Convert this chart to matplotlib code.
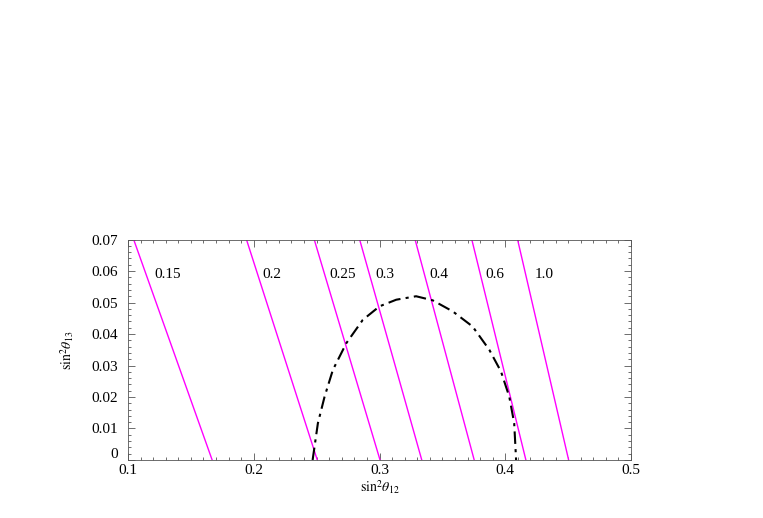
import matplotlib
matplotlib.use('Agg')

import matplotlib.pyplot as plt
import matplotlib.transforms as mtransforms
from matplotlib.ticker import MultipleLocator

plt.rcParams['font.family'] = 'Liberation Serif'
plt.rcParams['mathtext.fontset'] = 'stix'

# magenta contour lines: (label, x at top y=0.07, x at bottom y=0)
line_labels = ['0.15', '0.2', '0.25', '0.3', '0.4', '0.6', '1.0']
x_top = [0.1045, 0.1942, 0.2481, 0.2842, 0.3283, 0.3734, 0.4098]
x_bottom = [0.1669, 0.2505, 0.3004, 0.3336, 0.3753, 0.4164, 0.4504]
y_ends = [0.07, 0.0]

# label anchor positions (left edge)
label_x = [0.121, 0.207, 0.260, 0.297, 0.340, 0.384, 0.423]
label_y = 0.0589

# dash-dot allowed region
curve_x = [0.2468, 0.2510, 0.2563, 0.2629, 0.2736, 0.2867, 0.3000, 0.3133,
           0.3291, 0.3423, 0.3582, 0.3740, 0.3873, 0.3966, 0.4032, 0.4071,
           0.4085, 0.4086]
curve_y = [0.0, 0.0117, 0.0201, 0.0286, 0.0371, 0.0445, 0.0488, 0.0509,
           0.0520, 0.0507, 0.0472, 0.0424, 0.0350, 0.0281, 0.0201, 0.0117,
           0.0010, 0.0]

x_ticks = [0.1, 0.2, 0.3, 0.4, 0.5]
x_ticklabels = ['0.1', '0.2', '0.3', '0.4', '0.5']
y_ticks = [0, 0.01, 0.02, 0.03, 0.04, 0.05, 0.06, 0.07]
y_ticklabels = ['0', '0.01', '0.02', '0.03', '0.04', '0.05', '0.06', '0.07']

fig = plt.figure(figsize=(7.63, 5.18), dpi=100)
ax = fig.add_axes([0.1678, 0.112, 0.6592, 0.4255])

for xt, xb in zip(x_top, x_bottom):
    ax.plot([xt, xb], y_ends, color='#FF00FF', linewidth=1.0)

for lab, lx in zip(line_labels, label_x):
    ax.text(lx, label_y, lab, fontsize=11, ha='left', va='center')

ax.plot(curve_x, curve_y, color='black', linewidth=1.5,
        linestyle=(0, (6, 2.5, 1.5, 2.5)))

ax.set_xlim(0.1, 0.5)
ax.set_ylim(0, 0.07)
ax.set_xticks(x_ticks)
ax.set_xticklabels(x_ticklabels)
ax.set_yticks(y_ticks)
ax.set_yticklabels(y_ticklabels)
ax.xaxis.set_minor_locator(MultipleLocator(0.01))
ax.yaxis.set_minor_locator(MultipleLocator(0.002))

ax.tick_params(which='both', direction='in', top=True, right=True,
               labelsize=11, width=0.6, color='#555555')
ax.tick_params(which='major', length=5)
ax.tick_params(axis='x', which='major', pad=3)
ax.tick_params(axis='y', which='major', pad=7)
ax.tick_params(which='minor', length=2.5)
for sp in ax.spines.values():
    sp.set_linewidth(0.6)
    sp.set_color('#555555')

# lift the "0" y label a little, as in the original
zero_lbl = ax.get_yticklabels()[0]
zero_lbl.set_transform(zero_lbl.get_transform() +
                       mtransforms.ScaledTranslation(0, 5 / 72, fig.dpi_scale_trans))

ax.set_xlabel(r'$\mathrm{sin}^2\theta_{12}$', fontsize=10, labelpad=1)
ax.set_ylabel(r'$\mathrm{sin}^2\theta_{13}$', fontsize=10, labelpad=11)

plt.savefig('out.png', dpi=100)
plt.close(fig)
